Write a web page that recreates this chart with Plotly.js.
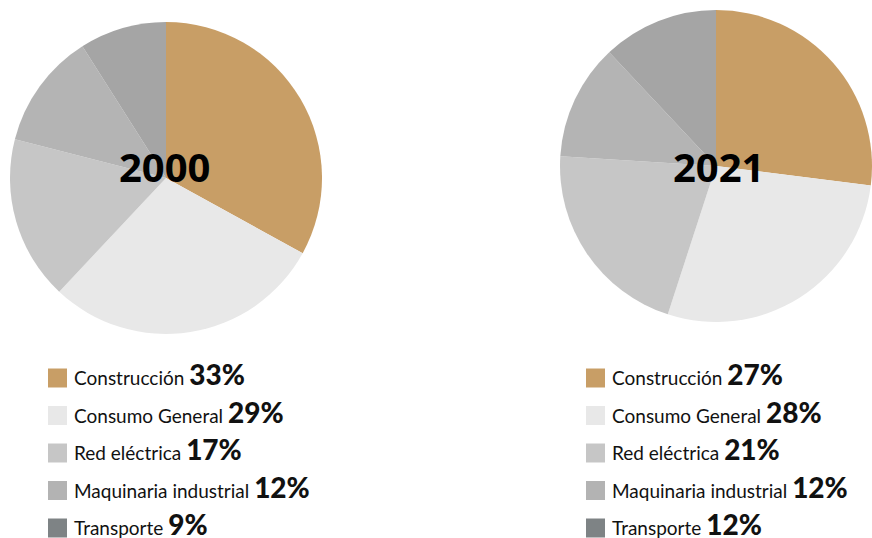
<!DOCTYPE html>
<html>
<head>
<meta charset="utf-8">
<script src="https://cdn.plot.ly/plotly-3.0.1.min.js"></script>
<style>html,body{margin:0;padding:0;background:#fff;}#chart{width:872px;height:538px;}</style>
</head>
<body>
<div id="chart"></div>
<script>
var categories = ["Construcción", "Consumo General", "Red eléctrica", "Maquinaria industrial", "Transporte"];
var years = ["2000", "2021"];
var values2000 = [33, 29, 17, 12, 9];
var values2021 = [27, 28, 21, 12, 12];
var pieColors = ["#C89E66", "#E8E8E8", "#C6C6C6", "#B4B4B4", "#A5A5A5"];
var swatchColors = ["#C89E66", "#E8E8E8", "#C6C6C6", "#B3B3B3", "#7E8385"];

var W = 872, H = 538;
function px(x){ return x / W; }
function py(y){ return 1 - y / H; }

var pies = [
  {values: values2000, year: years[0], cx: 166, cy: 178, r: 156, tx: 164, ty: 166, legX: 48},
  {values: values2021, year: years[1], cx: 716, cy: 166, r: 156, tx: 718, ty: 167, legX: 586}
];

var traces = [];
var annotations = [];
var shapes = [];
var rowY0 = 378, rowStep = 37.5, sw = 19;

pies.forEach(function(p){
  traces.push({
    type: 'pie',
    values: p.values,
    labels: categories,
    sort: false,
    direction: 'clockwise',
    rotation: 0,
    textinfo: 'none',
    hoverinfo: 'label+percent',
    marker: {colors: pieColors, line: {width: 0}},
    domain: {x: [px(p.cx - p.r), Math.min(1, px(p.cx + p.r))], y: [py(p.cy + p.r), py(p.cy - p.r)]},
    showlegend: false
  });
  annotations.push({
    xref: 'paper', yref: 'paper', x: px(p.tx), y: py(p.ty),
    xanchor: 'center', yanchor: 'middle', showarrow: false,
    text: '<b>' + p.year + '</b>',
    font: {family: 'Open Sans, sans-serif', size: 40, color: '#000'}
  });
  categories.forEach(function(c, i){
    var yc = rowY0 + i * rowStep;
    shapes.push({
      type: 'rect', xref: 'paper', yref: 'paper',
      x0: px(p.legX), x1: px(p.legX + sw), y0: py(yc + sw/2), y1: py(yc - sw/2),
      fillcolor: swatchColors[i], line: {width: 0}
    });
    annotations.push({
      xref: 'paper', yref: 'paper', x: px(p.legX + 24), y: py(yc - 4),
      xanchor: 'left', yanchor: 'middle', showarrow: false,
      text: c + ' <span style="font-size:28px;font-weight:900">' + p.values[i] + '%</span>',
      font: {family: 'Lato, sans-serif', size: 19, color: '#111'}
    });
  });
});

var layout = {
  width: W, height: H,
  margin: {l: 0, r: 0, t: 0, b: 0},
  paper_bgcolor: '#fff',
  plot_bgcolor: '#fff',
  annotations: annotations,
  shapes: shapes,
  showlegend: false
};

Plotly.newPlot('chart', traces, layout, {displayModeBar: false, staticPlot: true});
</script>
</body>
</html>
